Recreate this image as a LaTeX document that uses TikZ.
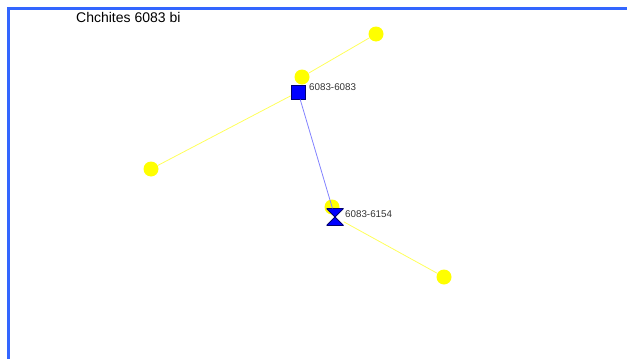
\documentclass[tikz,border=0pt]{standalone}
\usepackage{fontspec}
\setmainfont{Liberation Sans}
\usetikzlibrary{positioning}

\definecolor{frameblue}{RGB}{51,102,255}
\definecolor{nodeyellow}{RGB}{255,255,0}
\definecolor{edgeyellow}{RGB}{255,255,90}
\definecolor{edgeblue}{RGB}{130,130,255}
\definecolor{nodeblue}{RGB}{0,0,255}
\definecolor{rimblue}{RGB}{0,0,110}

\begin{document}
\begin{tikzpicture}
[x=1pt,y=-1pt,every node/.style={inner sep=0pt},
 dot/.style={circle,fill=nodeyellow,minimum size=15pt},
 gene/.style={rectangle,fill=nodeblue,draw=rimblue,line width=0.8pt,minimum size=14pt},
 hglass/.style={rectangle,minimum width=17pt,minimum height=17pt,
   path picture={\draw[fill=nodeblue,draw=rimblue,line width=0.8pt]
   (path picture bounding box.north west) -- (path picture bounding box.north east)
   -- (path picture bounding box.south west) -- (path picture bounding box.south east) -- cycle;}},
 tag/.style={font=\fontsize{9.8}{11}\selectfont,text=black!80}]

\useasboundingbox (0,0) rectangle (627,359);
\draw[frameblue,line width=3pt] (8.5,359) -- (8.5,8.5) -- (627,8.5);

\node[font=\fontsize{14}{16}\selectfont,anchor=west] (title) at (76,17) {Chchites 6083 bi};

\node[dot] (a) at (376,34) {};
\node[dot] (b) at (302,77) {};
\node[dot] (c) at (151,169) {};
\node[dot] (d) at (332,207) {};
\node[dot] (e) at (444,277) {};
\node[gene] (s) at (298,92) {};
\node[hglass] (h) at (335,217) {};

\node[tag,anchor=west] (sl) at (309,87) {6083-6083};
\node[tag,anchor=west] (hl) at (345,214) {6083-6154};

\foreach \from/\to in {a/b,s/c,h/e}
\draw[edgeyellow,line width=0.8pt] (\from) edge(\to);
\draw[edgeblue,line width=0.8pt] (s) -- (h);

\end{tikzpicture}
\end{document}
